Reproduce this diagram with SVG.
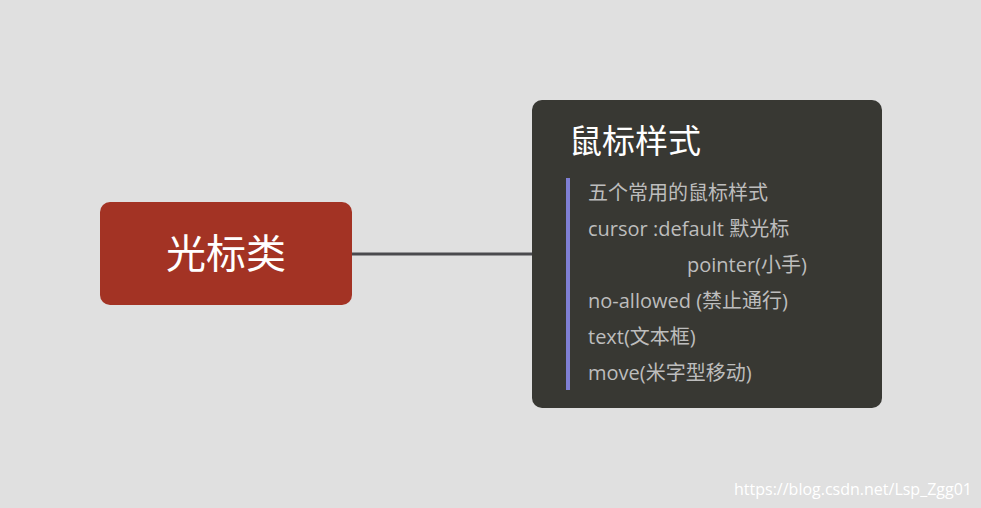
<svg xmlns="http://www.w3.org/2000/svg" width="981" height="508" viewBox="0 0 981 508">
<style>
.t{font-family:"Open Sans","Noto Sans CJK SC",sans-serif;}
.b{font-size:20px;fill:#bdbdbd;}
</style>
<rect width="981" height="508" fill="#e0e0e0"/>
<g id="connectors"><line x1="352" y1="254" x2="533" y2="254" stroke="#4a4a4e" stroke-width="3"/></g>
<g id="root">
<rect x="100" y="202" width="252" height="103" rx="10" fill="#a33324"/>
<text class="t" x="226" y="268" text-anchor="middle" font-size="40" fill="#ffffff">光标类</text>
</g>
<g id="detail">
<rect x="532" y="100" width="350" height="308" rx="10" fill="#383833"/>
<text class="t" x="569" y="153" font-size="33" fill="#ffffff">鼠标样式</text>
<rect x="566" y="178" width="4" height="212" fill="#7f7fd4"/>
<text class="t b" x="588" y="200">五个常用的鼠标样式</text>
<text class="t b" x="588" y="236">cursor :default 默光标</text>
<text class="t b" x="687" y="272">pointer(小手)</text>
<text class="t b" x="588" y="308">no-allowed (禁止通行)</text>
<text class="t b" x="588" y="344">text(文本框)</text>
<text class="t b" x="588" y="380">move(米字型移动)</text>
</g>
<text class="t" x="972" y="495" text-anchor="end" font-size="16" fill="#ffffff">https://blog.csdn.net/Lsp_Zgg01</text>
</svg>
